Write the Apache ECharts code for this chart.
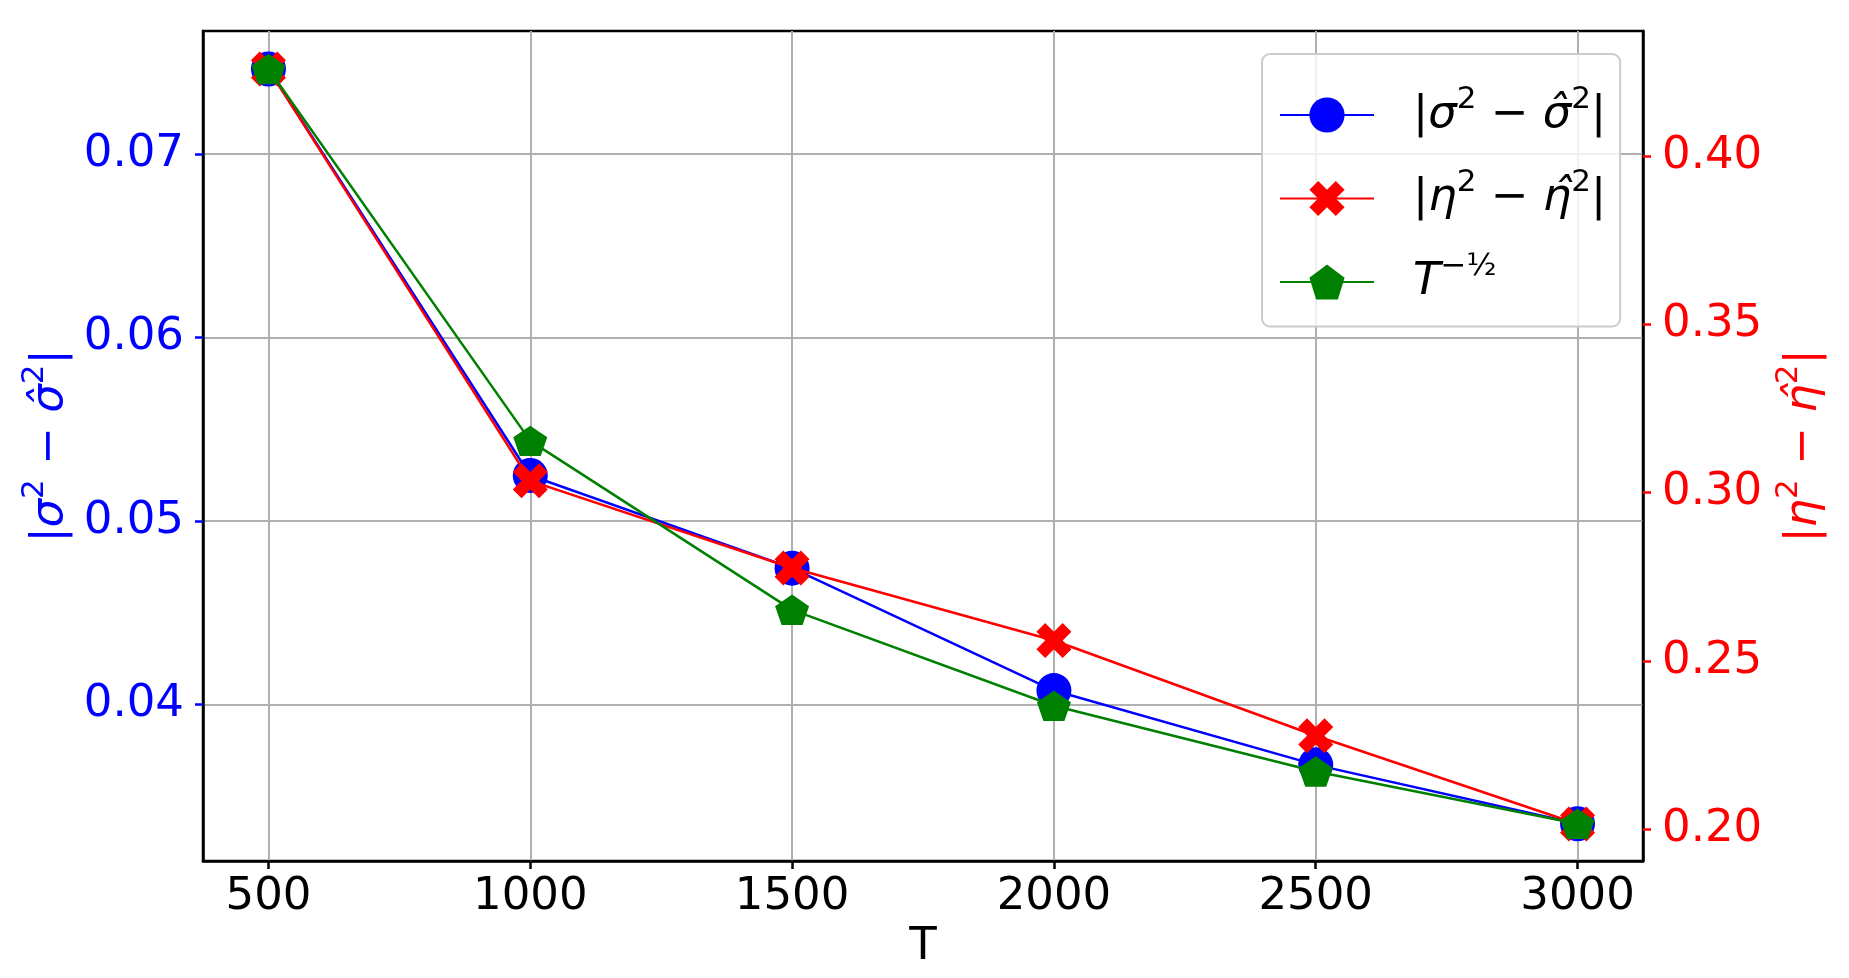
<!DOCTYPE html>
<html>
<head>
<meta charset="utf-8">
<script src="https://cdn.jsdelivr.net/npm/echarts@6/dist/echarts.min.js"></script>
<style>
  html, body { margin: 0; padding: 0; background: #fff; }
  #main { width: 1849px; height: 978px; }
</style>
</head>
<body>
<div id="main"></div>
<script>
// values
var T = [500, 1000, 1500, 2000, 2500, 3000];
var sigmaErr = [0.07464, 0.05248, 0.04743, 0.04076, 0.03671, 0.0335];
var etaErr = [0.4258, 0.3035, 0.2776, 0.2561, 0.2278, 0.2016];
// T^-1/2 curve, as drawn in left-axis units
var rateScaled = [0.07464, 0.05437, 0.04516, 0.03993, 0.03635, 0.0335];

var xTicks = [500, 1000, 1500, 2000, 2500, 3000];
var leftTicks = [0.04, 0.05, 0.06, 0.07];
var rightTicks = [0.20, 0.25, 0.30, 0.35, 0.40];

var FONT = 'DejaVu Sans';
var xPath = 'path://M3,0L4,1L3,2L4,3L3,4L2,3L1,4L0,3L1,2L0,1L1,0L2,1Z';
var pentPath = 'path://M0,-1L0.951,-0.309L0.588,0.809L-0.588,0.809L-0.951,-0.309Z';

function pairs(ys) {
  return T.map(function (t, i) { return [t, ys[i]]; });
}

function mathRich(color) {
  return {
    g: { fontFamily: FONT, fontStyle: 'italic', fontSize: 45, lineHeight: 62, color: color },
    t: { fontFamily: FONT, fontSize: 45, lineHeight: 62, color: color },
    sup: { fontFamily: FONT, fontSize: 31, lineHeight: 34, verticalAlign: 'top', color: color }
  };
}

var legendText = {
  sigma: '{t||}{g|σ}{sup|2}{t| − }{g|σ\u0302}{sup|2}{t||}',
  eta: '{t||}{g|η}{sup|2}{t| − }{g|η\u0302}{sup|2}{t||}',
  rate: '{g|T}{sup|−½}'
};

var chart = echarts.init(document.getElementById('main'));

chart.setOption({
  animation: false,
  backgroundColor: '#ffffff',
  textStyle: { fontFamily: FONT },
  grid: {
    left: 203, right: 206, top: 31, bottom: 117,
    show: true, borderColor: '#000', borderWidth: 2.5,
    outerBoundsMode: 'none'
  },
  legend: {
    orient: 'vertical',
    left: 1262, top: 54,
    itemWidth: 94, itemHeight: 44, itemGap: 30,
    padding: [30, 14, 22, 17],
    backgroundColor: 'rgba(255,255,255,0.8)',
    borderColor: '#cccccc', borderWidth: 2, borderRadius: 8,
    data: ['sigma', 'eta', 'rate'],
    formatter: function (name) { return legendText[name]; },
    textStyle: { padding: [0, 0, 0, 34], color: '#000', rich: mathRich('#000') }
  },
  xAxis: {
    type: 'value',
    min: 375, max: 3125,
    name: 'T', nameLocation: 'middle', nameGap: 62,
    nameTextStyle: { fontFamily: FONT, fontSize: 45, color: '#000' },
    axisLine: { show: true, lineStyle: { color: '#000', width: 2.5 } },
    axisTick: { show: true, customValues: xTicks, length: 8, lineStyle: { color: '#000', width: 2.5 } },
    axisLabel: {
      customValues: xTicks, margin: 14, fontFamily: FONT, fontSize: 45, color: '#000',
      formatter: function (v) { return String(v); }
    },
    splitLine: { show: true, lineStyle: { color: '#b0b0b0', width: 2 } }
  },
  yAxis: [
    {
      type: 'value',
      position: 'left',
      min: 0.03147, max: 0.07671,
      name: '{t||}{g|σ}{sup|2}{t| − }{g|σ\u0302}{sup|2}{t||}',
      nameLocation: 'middle', nameRotate: 90, nameGap: 122,
      nameTextStyle: { fontFamily: FONT, fontSize: 45, color: '#0000ff', rich: mathRich('#0000ff') },
      axisLine: { show: true, lineStyle: { color: '#000', width: 2.5 } },
      axisTick: { show: true, customValues: leftTicks, length: 8, lineStyle: { color: '#0000ff', width: 2.5 } },
      axisLabel: {
        customValues: leftTicks, margin: 19, fontFamily: FONT, fontSize: 45, color: '#0000ff',
        formatter: function (v) { return v.toFixed(2); }
      },
      splitLine: { show: true, lineStyle: { color: '#b0b0b0', width: 2 } }
    },
    {
      type: 'value',
      position: 'right',
      min: 0.1906, max: 0.4371,
      name: '{t||}{g|η}{sup|2}{t| − }{g|η\u0302}{sup|2}{t||}',
      nameLocation: 'middle', nameRotate: 90, nameGap: 129,
      nameTextStyle: { fontFamily: FONT, fontSize: 45, color: '#ff0000', rich: mathRich('#ff0000') },
      axisLine: { show: true, lineStyle: { color: '#000', width: 2.5 } },
      axisTick: { show: true, customValues: rightTicks, length: 8, lineStyle: { color: '#ff0000', width: 2.5 } },
      axisLabel: {
        customValues: rightTicks, margin: 19, fontFamily: FONT, fontSize: 45, color: '#ff0000',
        formatter: function (v) { return v.toFixed(2); }
      },
      splitLine: { show: false }
    }
  ],
  series: [
    {
      name: 'sigma', type: 'line', yAxisIndex: 0, z: 2,
      data: pairs(sigmaErr),
      symbol: 'circle', symbolSize: 35,
      lineStyle: { color: '#0000ff', width: 2.5 },
      itemStyle: { color: '#0000ff' }
    },
    {
      name: 'eta', type: 'line', yAxisIndex: 1, z: 3,
      data: pairs(etaErr),
      symbol: xPath, symbolSize: 35,
      lineStyle: { color: '#ff0000', width: 2.5 },
      itemStyle: { color: '#ff0000' }
    },
    {
      name: 'rate', type: 'line', yAxisIndex: 0, z: 4,
      data: pairs(rateScaled),
      symbol: pentPath, symbolSize: [34, 32], symbolKeepAspect: true,
      lineStyle: { color: '#008000', width: 2.5 },
      itemStyle: { color: '#008000' }
    }
  ]
});

window.addEventListener('resize', function () {
  chart.resize();
});
</script>
</body>
</html>
